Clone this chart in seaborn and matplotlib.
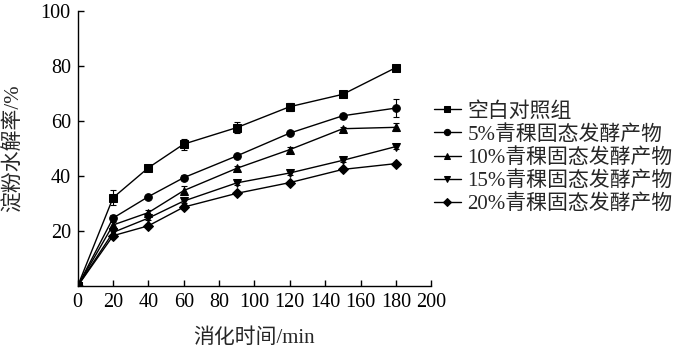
import seaborn as sns
import pandas as pd
import matplotlib.pyplot as plt
import numpy as np

time_min = [0, 20, 40, 60, 90, 120, 150, 180]
groups = ["空白对照组", "5%青稞固态发酵产物", "10%青稞固态发酵产物",
          "15%青稞固态发酵产物", "20%青稞固态发酵产物"]
blank = [0, 32.1, 43.0, 51.6, 57.6, 65.2, 69.7, 79.4]
p5 = [0, 24.7, 32.5, 39.4, 47.3, 55.6, 61.9, 64.7]
p10 = [0, 22.2, 26.7, 34.7, 42.8, 49.6, 57.2, 57.7]
p15 = [0, 19.5, 24.7, 30.9, 37.5, 41.1, 45.7, 50.7]
p20 = [0, 18.3, 21.9, 28.7, 33.7, 37.6, 42.4, 44.5]
err_blank = [0, 2.7, 0.6, 2.0, 2.0, 1.5, 0.6, 0.6]
err_p5 = [0, 1.0, 0.6, 1.0, 0.8, 0.6, 0.6, 3.2]
err_p10 = [0, 1.0, 0.8, 1.5, 0.8, 1.0, 0.6, 1.5]
err_p15 = [0, 0.8, 0.8, 0.8, 0.6, 0.6, 0.6, 0.8]
err_p20 = [0, 0.6, 0.6, 0.6, 0.6, 0.6, 0.6, 0.6]

series = [blank, p5, p10, p15, p20]
errs = [err_blank, err_p5, err_p10, err_p15, err_p20]
markers = ["s", "o", "^", "v", "D"]

rows = []
for g, vals in zip(groups, series):
    for t, v in zip(time_min, vals):
        rows.append({"time": t, "rate": v, "group": g})
df = pd.DataFrame(rows)

sns.set_style("ticks")
plt.rcParams["font.family"] = ["Liberation Serif", "Noto Sans CJK SC"]
plt.rcParams["axes.unicode_minus"] = False

fig = plt.figure(figsize=(6.78, 3.54), dpi=100)
ax = fig.add_axes([0.1146, 0.192, 0.5214, 0.777])

for vals, e in zip(series, errs):
    ax.errorbar(time_min, vals, yerr=e, fmt="none", ecolor="black",
                elinewidth=0.8, capsize=2.5, capthick=0.8)

sns.lineplot(data=df, x="time", y="rate", hue="group", style="group",
             palette=["black"] * 5, markers=markers, dashes=False,
             markersize=5.5, markeredgecolor="black", linewidth=1.0,
             ax=ax, legend=True)

ax.set_xlim(0, 200)
ax.set_ylim(0, 100)
ax.set_xticks(range(0, 201, 20))
ax.set_yticks([20, 40, 60, 80, 100])
ax.tick_params(direction="in", length=4, width=1, labelsize=14.5,
               colors="black", pad=5)
for s in ["left", "bottom"]:
    ax.spines[s].set_color("black")
    ax.spines[s].set_linewidth(1)
sns.despine(ax=ax)
ax.set_xlabel("消化时间/min", fontsize=15, labelpad=12)
ax.set_ylabel("淀粉水解率/%", fontsize=15, labelpad=12)

handles, labels = ax.get_legend_handles_labels()
for h in handles:
    h.set_markersize(4.5)
ax.legend(handles, labels, loc="upper left", bbox_to_anchor=(0.640, 0.712),
          bbox_transform=fig.transFigure, frameon=False, fontsize=15,
          handlelength=1.3, handletextpad=0.3, labelspacing=0.16,
          borderaxespad=0, borderpad=0)

fig.savefig("out.png", dpi=100)
